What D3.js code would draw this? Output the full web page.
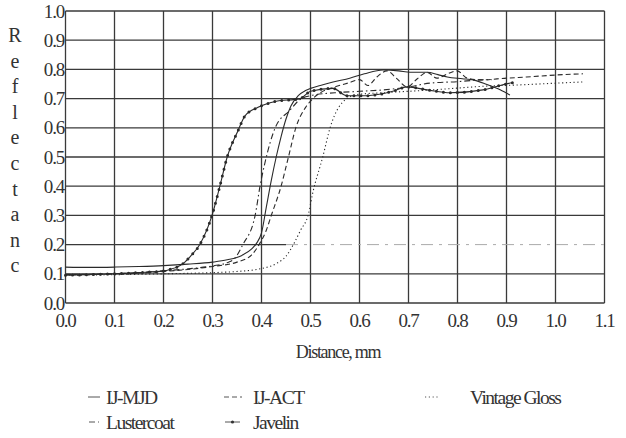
<!DOCTYPE html>
<html>
<head>
<meta charset="utf-8">
<script src="https://cdn.jsdelivr.net/npm/d3@7"></script>
<style>
  body { margin: 0; background: #fff; }
</style>
</head>
<body>
<div id="chart"></div>
<script>
// values (distance mm, reflectance)
var xTicks = [0, 0.1, 0.2, 0.3, 0.4, 0.5, 0.6, 0.7, 0.8, 0.9, 1.0, 1.1];
var yTicks = [0, 0.1, 0.2, 0.3, 0.4, 0.5, 0.6, 0.7, 0.8, 0.9, 1.0];
var yLetters = ["R", "e", "f", "l", "e", "c", "t", "a", "n", "c"];

var ijMjd = [[0,0.123],[0.05,0.122],[0.1,0.123],[0.15,0.125],[0.2,0.128],[0.25,0.133],[0.3,0.14],
  [0.33,0.148],[0.36,0.163],[0.38,0.185],[0.39,0.205],[0.4,0.24],[0.41,0.33],[0.42,0.42],[0.43,0.5],
  [0.44,0.57],[0.45,0.63],[0.46,0.675],[0.475,0.71],[0.49,0.728],[0.5,0.735],[0.52,0.745],[0.546,0.757],
  [0.58,0.77],[0.61,0.785],[0.648,0.798],[0.68,0.795],[0.703,0.79],[0.738,0.79],[0.76,0.782],
  [0.779,0.774],[0.81,0.768],[0.832,0.764],[0.86,0.748],[0.887,0.73],[0.907,0.712]];
var ijAct = [[0,0.098],[0.1,0.1],[0.2,0.108],[0.3,0.125],[0.35,0.14],[0.38,0.165],[0.395,0.2],
  [0.41,0.25],[0.42,0.3],[0.44,0.4],[0.455,0.5],[0.47,0.6],[0.49,0.67],[0.505,0.7],[0.52,0.72],
  [0.55,0.74],[0.58,0.755],[0.6,0.765],[0.617,0.745],[0.636,0.775],[0.656,0.795],[0.675,0.77],
  [0.697,0.74],[0.718,0.768],[0.738,0.79],[0.758,0.77],[0.78,0.785],[0.799,0.795],[0.82,0.77],
  [0.846,0.764],[0.9,0.77],[0.941,0.774],[1.003,0.781],[1.056,0.785]];
var vintage = [[0,0.095],[0.1,0.097],[0.2,0.1],[0.3,0.104],[0.35,0.108],[0.4,0.118],[0.43,0.135],
  [0.45,0.16],[0.465,0.2],[0.48,0.25],[0.495,0.3],[0.505,0.38],[0.525,0.5],[0.54,0.6],[0.574,0.7],
  [0.6,0.715],[0.65,0.72],[0.7,0.725],[0.75,0.73],[0.8,0.736],[0.85,0.742],[0.927,0.747],
  [1.003,0.753],[1.056,0.757]];
var lustercoat = [[0,0.097],[0.1,0.1],[0.2,0.11],[0.25,0.117],[0.3,0.127],[0.33,0.138],[0.345,0.152],
  [0.362,0.2],[0.387,0.3],[0.397,0.4],[0.407,0.48],[0.428,0.6],[0.458,0.66],[0.477,0.695],
  [0.5,0.71],[0.55,0.72],[0.6,0.725],[0.65,0.73],[0.7,0.74],[0.744,0.753],[0.8,0.758],[0.846,0.764],
  [0.87,0.765]];
var javelin = [[0,0.095],[0.1,0.1],[0.15,0.104],[0.2,0.11],[0.213,0.115],[0.24,0.135],[0.255,0.16],
  [0.274,0.2],[0.299,0.3],[0.315,0.4],[0.33,0.5],[0.352,0.59],[0.366,0.64],[0.393,0.67],[0.428,0.69],
  [0.479,0.7],[0.5,0.725],[0.546,0.735],[0.574,0.71],[0.615,0.71],[0.668,0.725],[0.697,0.74],
  [0.738,0.73],[0.785,0.72],[0.852,0.73],[0.887,0.745],[0.913,0.755]];

var series = [
  {name: "IJ-MJD", data: ijMjd, dash: null, sym: 12},
  {name: "IJ-ACT", data: ijAct, dash: "5,3", sym: 18},
  {name: "Vintage Gloss", data: vintage, dash: "1.2,2.6", sym: 15},
  {name: "Lustercoat", data: lustercoat, dash: "6,3,1.5,3", sym: 10},
  {name: "Javelin", data: javelin, dash: null, dots: true, sym: 15}
];

var serif = "'Liberation Serif', 'Times New Roman', Times, 'DejaVu Serif', serif";
var width = 626, height = 438;
var svg = d3.select("#chart").append("svg")
  .attr("width", width).attr("height", height)
  .attr("font-family", serif);

var x = d3.scaleLinear().domain([0, 1.1]).range([65.5, 604.5]);
var y = d3.scaleLinear().domain([0, 1.0]).range([303, 11]);

var grid = svg.append("g").attr("stroke", "#3a3a3a").attr("stroke-width", 1.3);
grid.selectAll(".vx").data(xTicks).enter().append("line")
  .attr("x1", d => x(d)).attr("x2", d => x(d))
  .attr("y1", y(0)).attr("y2", y(1));
grid.selectAll(".hy").data(yTicks.filter(d => d !== 0.2)).enter().append("line")
  .attr("x1", x(0)).attr("x2", x(1.1))
  .attr("y1", d => y(d)).attr("y2", d => y(d));
// the 0.2 line is faded on the right in the reference
grid.append("line")
  .attr("x1", x(0)).attr("x2", x(0.45)).attr("y1", y(0.2)).attr("y2", y(0.2));
grid.append("line")
  .attr("x1", x(0.45)).attr("x2", x(1.1)).attr("y1", y(0.2)).attr("y2", y(0.2))
  .attr("stroke", "#aaa").attr("stroke-width", 1).attr("stroke-dasharray", "12,6,3,6");

var fnt = svg.append("g").attr("fill", "#333");

// tick labels
fnt.append("g").selectAll("text").data(yTicks).enter().append("text")
  .attr("x", 64).attr("y", d => y(d)).attr("dy", "0.35em")
  .attr("text-anchor", "end").attr("font-size", 19).attr("letter-spacing", -1.2)
  .text(d => d3.format(".1f")(d));
fnt.append("g").selectAll("text").data(xTicks).enter().append("text")
  .attr("x", d => x(d)).attr("y", 327)
  .attr("text-anchor", "middle").attr("font-size", 19).attr("letter-spacing", -1.2)
  .text(d => d3.format(".1f")(d));

// vertical axis title, one letter per row
fnt.append("g").selectAll("text").data(yLetters).enter().append("text")
  .attr("x", 15).attr("y", (d, i) => 42 + i * 25.6)
  .attr("text-anchor", "middle").attr("font-size", 20)
  .text(d => d);

fnt.append("text").attr("x", 338).attr("y", 358)
  .attr("text-anchor", "middle").attr("font-size", 18).attr("letter-spacing", -1.3)
  .text("Distance, mm");

var line = d3.line().x(d => x(d[0])).y(d => y(d[1])).curve(d3.curveMonotoneX);

var lines = svg.append("g").attr("fill", "none");
series.forEach(function(s) {
  lines.append("path").datum(s.data)
    .attr("d", line)
    .attr("stroke", "#2a2a2a").attr("stroke-width", 1.1)
    .attr("stroke-dasharray", s.dash);
  if (s.dots) {
    lines.append("path").datum(s.data)
      .attr("d", line)
      .attr("stroke", "#2a2a2a").attr("stroke-width", 3)
      .attr("stroke-linecap", "round")
      .attr("stroke-dasharray", "0,7");
  }
});

// legend
var legendPos = [[88, 397, 106], [224, 397, 253], [425, 397, 470], [89, 422, 106], [225, 422, 253]];
var legend = svg.append("g");
series.forEach(function(s, i) {
  var p = legendPos[i];
  legend.append("line")
    .attr("x1", p[0]).attr("x2", p[0] + s.sym).attr("y1", p[1]).attr("y2", p[1])
    .attr("stroke", "#555").attr("stroke-width", 1)
    .attr("stroke-dasharray", s.dash);
  if (s.dots) {
    legend.append("circle").attr("cx", p[0] + s.sym / 2).attr("cy", p[1]).attr("r", 1.6).attr("fill", "#333");
  }
  legend.append("text")
    .attr("x", p[2]).attr("y", p[1]).attr("dy", "0.35em")
    .attr("font-size", 19.5).attr("letter-spacing", -1.5).attr("fill", "#333")
    .text(s.name);
});
</script>
</body>
</html>
